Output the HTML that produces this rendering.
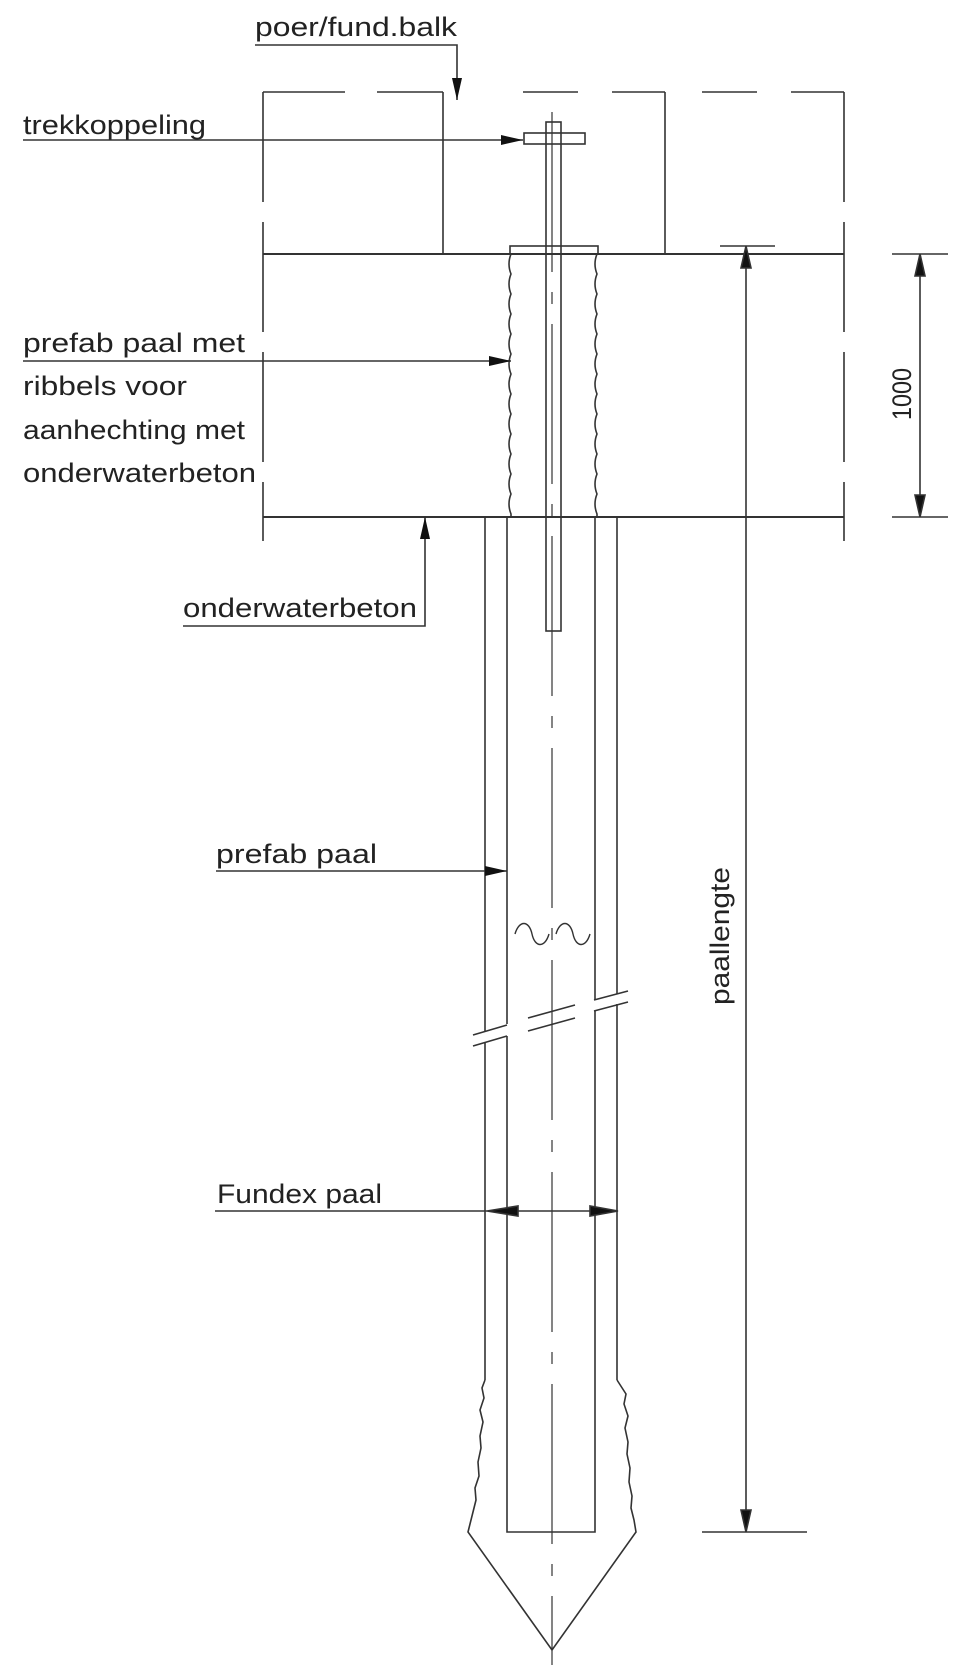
<!DOCTYPE html>
<html><head><meta charset="utf-8"><style>
html,body{margin:0;padding:0;background:#fff}
svg{display:block}
text{font-family:"Liberation Sans",sans-serif;font-size:27px;fill:#222}
</style></head><body>
<svg width="960" height="1670" viewBox="0 0 960 1670" xmlns="http://www.w3.org/2000/svg">
<defs>
<marker id="ar" viewBox="0 0 22 10" refX="22" refY="5" markerWidth="22" markerHeight="10" markerUnits="userSpaceOnUse" orient="auto">
<path d="M0,0 L22,5 L0,10 Z" fill="#111"/></marker>
</defs>
<g stroke="#333" stroke-width="1.6" fill="none">
<path d="M263,92 H345 M377,92 H443 M523,92 H578 M612,92 H665 M702,92 H757 M791,92 H844"/>
<path d="M263,92 V541 M844,92 V541" stroke-dasharray="110 20"/>
<path d="M443,92 V254 M665,92 V254"/>
<path d="M263,254 H844 M263,517 H844" stroke-width="2"/>
<rect x="546" y="122" width="15" height="509"/>
<rect x="524" y="133" width="61" height="11"/>
<rect x="510" y="246" width="88" height="8"/>
<path d="M511,254 q-4,10 0,20 q-4,10 0,20 q-4,10 0,20 q-4,10 0,20 q-4,10 0,20 q-4,10 0,20 q-4,10 0,20 q-4,10 0,20 q-4,10 0,20 q-4,10 0,20 q-4,10 0,20 q-4,10 0,20 q-4,10 0,20 v3"/>
<path d="M597,254 q-4,10 0,20 q-4,10 0,20 q-4,10 0,20 q-4,10 0,20 q-4,10 0,20 q-4,10 0,20 q-4,10 0,20 q-4,10 0,20 q-4,10 0,20 q-4,10 0,20 q-4,10 0,20 q-4,10 0,20 q-4,10 0,20 v3"/>
<path d="M485,517 V1032 M507,517 V1024 M595,517 V1000 M617,517 V994"/>
<path d="M485,1042 V1380 M507,1036 V1532 H595 V1011 M617,1004 V1380"/>
<path d="M485,1380 l-3,8 l2,10 l-4,12 l3,12 l-3,14 l1,12 l-3,14 l1,14 l-4,12 l1,12 l-3,12 L468,1532 L552,1650 L636,1532 l-2,-12 l-3,-12 l1,-12 l-3,-14 l1,-14 l-3,-14 l1,-12 l-3,-14 l3,-12 l-4,-12 l2,-10 L617,1380"/>
<path d="M473,1035 L507,1025 M473,1046 L507,1036 M528,1018 L575,1005 M528,1031 L575,1018 M594,1000 L628,991 M594,1011 L628,1002"/>
<path d="M552,112 V1665" stroke-width="1.2" stroke-dasharray="160 20 12 20"/>
<path d="M515,934 c4,-14 14,-14 17,0 c3,14 13,14 17,0 M556,934 c4,-14 14,-14 17,0 c3,14 13,14 17,0" stroke-width="1.4"/>
<path d="M892,254 H948 M892,517 H948"/>
<path d="M920,274 V497"/>
<path d="M920,254 L915,276 L925,276 Z M920,517 L915,495 L925,495 Z" fill="#111"/>
<path d="M720,246 H775 M702,1532 H807"/>
<path d="M746,266 V1512"/>
<path d="M746,246 L741,268 L751,268 Z M746,1532 L741,1510 L751,1510 Z" fill="#111"/>
<path d="M255,45 H457 V100" marker-end="url(#ar)"/>
<path d="M23,140 H523" marker-end="url(#ar)"/>
<path d="M23,361 H511" marker-end="url(#ar)"/>
<path d="M183,626 H425 V517" marker-end="url(#ar)"/>
<path d="M216,871 H507" marker-end="url(#ar)"/>
<path d="M215,1211 H487"/>
<path d="M487,1211 L518,1206 L518,1216 Z M618,1211 L590,1206 L590,1216 Z" fill="#111"/>
<path d="M518,1211 H590"/>
</g>
<text x="255" y="36" textLength="202" lengthAdjust="spacingAndGlyphs">poer/fund.balk</text>
<text x="23" y="134" textLength="183" lengthAdjust="spacingAndGlyphs">trekkoppeling</text>
<text x="23" y="352" textLength="222" lengthAdjust="spacingAndGlyphs">prefab paal met</text>
<text x="23" y="395" textLength="164" lengthAdjust="spacingAndGlyphs">ribbels voor</text>
<text x="23" y="439" textLength="222" lengthAdjust="spacingAndGlyphs">aanhechting met</text>
<text x="23" y="482" textLength="233" lengthAdjust="spacingAndGlyphs">onderwaterbeton</text>
<text x="183" y="617" textLength="234" lengthAdjust="spacingAndGlyphs">onderwaterbeton</text>
<text x="216" y="863" textLength="161" lengthAdjust="spacingAndGlyphs">prefab paal</text>
<text x="217" y="1203" textLength="165" lengthAdjust="spacingAndGlyphs">Fundex paal</text>
<text transform="translate(911,420) rotate(-90)" textLength="52" lengthAdjust="spacingAndGlyphs">1000</text>
<text transform="translate(729,1005) rotate(-90)" textLength="138" lengthAdjust="spacingAndGlyphs">paallengte</text>
</svg>
</body></html>
